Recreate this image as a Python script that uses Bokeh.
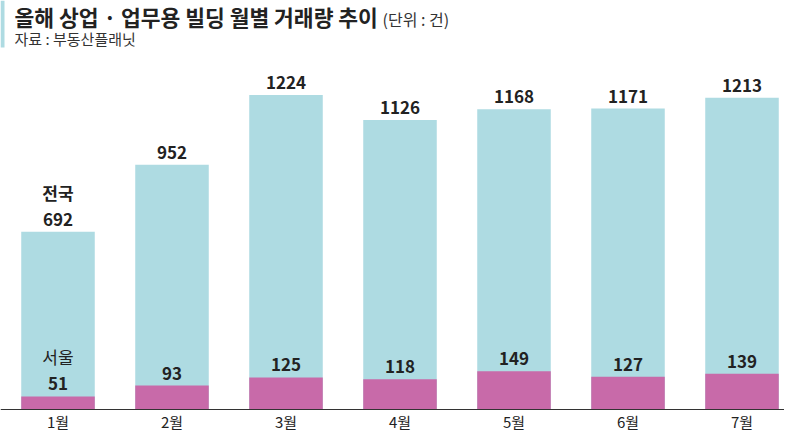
from bokeh.plotting import figure
from bokeh.models import Label, ColumnDataSource, Range1d, Span, BoxAnnotation
from bokeh.core.properties import value
from bokeh.embed import file_html
from bokeh.resources import INLINE

months = ["1월", "2월", "3월", "4월", "5월", "6월", "7월"]
national = [692, 952, 1224, 1126, 1168, 1171, 1213]
seoul = [51, 93, 125, 118, 149, 127, 139]

FONT = "Noto Sans CJK KR"
BLUE = "#aedbe2"
PINK = "#c86aa9"
TXT = "#222222"

W, H = 784, 432
BASE_PX = 409          # pixel row of the zero line (from top)
PX_PER_UNIT = 0.257    # vertical scale
SLOT = 114.0           # horizontal pixels per month
FIRST = 57.5           # centre of the first bar (px)

idx = list(range(len(months)))
src = ColumnDataSource(dict(x=idx, m=months, nat=national, seo=seoul,
                            nat_t=[str(v) for v in national],
                            seo_t=[str(v) for v in seoul]))

x0 = -FIRST / SLOT
p = figure(width=W, height=H, output_backend="svg", toolbar_location=None,
           x_range=Range1d(x0, x0 + W / SLOT),
           y_range=Range1d(-(H - BASE_PX) / PX_PER_UNIT, BASE_PX / PX_PER_UNIT),
           min_border=0, outline_line_color=None, x_axis_location=None, y_axis_location=None)
p.background_fill_color = "white"
p.border_fill_color = "white"
p.grid.visible = False

p.vbar(x="x", top="nat", width=0.645, source=src, fill_color=BLUE, line_color=None)
p.vbar(x="x", top="seo", width=0.645, source=src, fill_color=PINK, line_color=None)

# baseline
p.add_layout(Span(location=0, dimension="width", line_color="#333333", line_width=1))

# month labels
p.text(x="x", y=0, text="m", source=src, text_align="center", text_baseline="bottom",
       y_offset=22, text_font=value(FONT), text_font_size="15px", text_color=TXT)

# value labels
p.text(x="x", y="nat", text="nat_t", source=src, text_align="center", text_baseline="bottom",
       y_offset=-6, text_font=value(FONT), text_font_size="17px", text_font_style="bold",
       text_color=TXT)
p.text(x="x", y="seo", text="seo_t", source=src, text_align="center", text_baseline="bottom",
       y_offset=-6, text_font=value(FONT), text_font_size="17px", text_font_style="bold",
       text_color=TXT)

# series names above the first bar's values
p.text(x=[idx[0]], y=[national[0]], text=["전국"], text_align="center", text_baseline="bottom",
       y_offset=-27, text_font=value(FONT), text_font_size="17px", text_font_style="bold",
       text_color=TXT)
p.text(x=[idx[0]], y=[seoul[0]], text=["서울"], text_align="center", text_baseline="bottom",
       y_offset=-27, text_font=value(FONT), text_font_size="17px", text_color=TXT)

# title block
p.add_layout(BoxAnnotation(left=0, right=4, top=H, bottom=H - 47,
                           left_units="screen", right_units="screen",
                           top_units="screen", bottom_units="screen",
                           fill_color=BLUE, fill_alpha=1.0, line_color=None))
p.add_layout(Label(x=14, y=H - 31.5, x_units="screen", y_units="screen",
                   text="올해 상업 · 업무용 빌딩 월별 거래량 추이",
                   text_font=FONT, text_font_size="21.5px", text_font_style="bold", text_color=TXT,
                   text_baseline="bottom"))
p.add_layout(Label(x=382, y=H - 30, x_units="screen", y_units="screen", text="(단위 : 건)",
                   text_font=FONT, text_font_size="16px", text_color="#333333",
                   text_baseline="bottom"))
p.add_layout(Label(x=14, y=H - 48, x_units="screen", y_units="screen", text="자료 : 부동산플래닛",
                   text_font=FONT, text_font_size="15px", text_color="#333333",
                   text_baseline="bottom"))

open("out.html", "w").write(file_html(p, INLINE))
